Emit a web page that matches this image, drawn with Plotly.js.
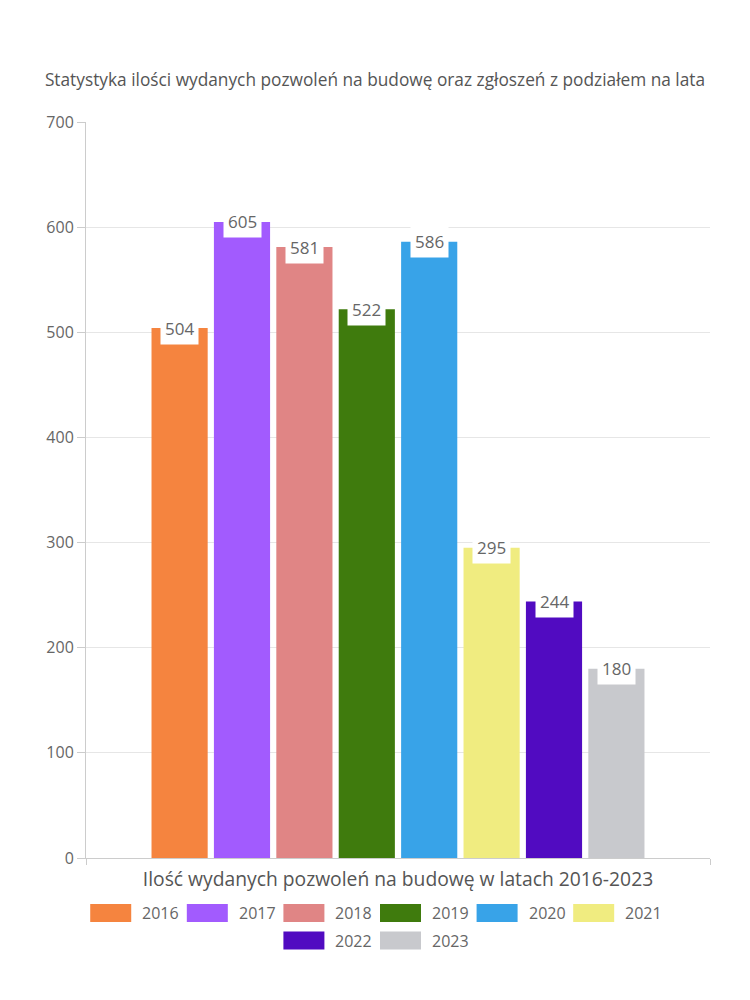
<!DOCTYPE html>
<html>
<head>
<meta charset="utf-8">
<script src="https://cdn.plot.ly/plotly-3.0.1.min.js"></script>
<style>
  html, body { margin: 0; padding: 0; background: #fff; }
  #chart { width: 750px; height: 1000px; }
</style>
</head>
<body>
<div id="chart"></div>
<script>
// ---- data ----
const years = ['2016', '2017', '2018', '2019', '2020', '2021', '2022', '2023'];
const values = [504, 605, 581, 522, 586, 295, 244, 180];
const colors = ['#F5843F', '#A25BFE', '#E08585', '#3F7B0D', '#38A3E8', '#F0EC80', '#510BC1', '#C8C9CD'];
const category = ['2016-2023'];
const chartTitle = 'Statystyka ilości wydanych pozwoleń na budowę oraz zgłoszeń z podziałem na lata';
const xTitle = 'Ilość wydanych pozwoleń na budowę w latach 2016-2023';
const yTicks = [0, 100, 200, 300, 400, 500, 600, 700];

// ---- style ----
const FONT = '"Open Sans", "DejaVu Sans", sans-serif';
const W = 750, H = 1000;
const M = { l: 86, r: 40, t: 122, b: 142 };
const PW = W - M.l - M.r, PH = H - M.t - M.b;
const BARGAP = 0.2, BARGROUPGAP = 0.1;

const traces = years.map((y, i) => ({
  type: 'bar',
  name: y,
  x: category,
  y: [values[i]],
  marker: { color: colors[i], line: { width: 0 } },
  showlegend: false,
  hoverinfo: 'skip'
}));

// value labels (white boxes) centred on each bar's top, positioned via the bar slot math
const n = years.length;
const slot = (1 - BARGAP) / n;
const annotations = values.map((v, i) => ({
  x: -(1 - BARGAP) / 2 + slot * (i + 0.5),
  y: v,
  xref: 'x', yref: 'y',
  text: String(v),
  showarrow: false,
  xanchor: 'center', yanchor: 'middle',
  bgcolor: '#ffffff',
  borderpad: 4,
  font: { family: FONT, size: 17, color: '#666666' }
}));

// custom legend (ECharts style): wide swatches, two centred rows
const LEG_FONT_SIZE = 16;
const ctx = document.createElement('canvas').getContext('2d');
ctx.font = LEG_FONT_SIZE + 'px ' + FONT;
const swW = 41, swH = 18, txtGap = 9, itemGap = 10;
const rows = [years.slice(0, 6), years.slice(6)];
const rowY = [913, 940.5];
const shapes = [];
rows.forEach((row, r) => {
  const widths = row.map(t => swW + txtGap + ctx.measureText(t).width);
  const total = widths.reduce((a, b) => a + b, 0) + itemGap * (row.length - 1);
  let px = W / 2 - total / 2;
  row.forEach((t, k) => {
    const idx = years.indexOf(t);
    const py = rowY[r];
    shapes.push({
      type: 'rect', xref: 'paper', yref: 'paper', layer: 'above',
      x0: (px - M.l) / PW, x1: (px + swW - M.l) / PW,
      y0: (H - M.b - (py + swH / 2)) / PH, y1: (H - M.b - (py - swH / 2)) / PH,
      fillcolor: colors[idx], line: { width: 0 }
    });
    annotations.push({
      xref: 'paper', yref: 'paper',
      x: (px + swW + txtGap - M.l) / PW,
      y: (H - M.b - py) / PH,
      text: t, showarrow: false,
      xanchor: 'left', yanchor: 'middle',
      font: { family: FONT, size: LEG_FONT_SIZE, color: '#666666' }
    });
    px += widths[k] + itemGap;
  });
});

const layout = {
  width: W, height: H,
  margin: M,
  paper_bgcolor: '#ffffff',
  plot_bgcolor: '#ffffff',
  font: { family: FONT, color: '#666666' },
  title: {
    text: chartTitle,
    x: 0.5, xref: 'container', xanchor: 'center',
    y: 1 - 80 / H, yref: 'container', yanchor: 'middle',
    font: { family: FONT, size: 17.3, color: '#555555' }
  },
  barmode: 'group',
  bargap: BARGAP,
  bargroupgap: BARGROUPGAP,
  showlegend: false,
  xaxis: {
    type: 'category',
    showticklabels: false,
    tickson: 'boundaries',
    ticks: 'outside', ticklen: 6, tickcolor: '#cccccc',
    showgrid: true, gridcolor: '#e6e6e6',
    showline: true, linecolor: '#cccccc', linewidth: 1,
    zeroline: false,
    fixedrange: true,
    title: { text: xTitle, standoff: 14, font: { family: FONT, size: 19.3, color: '#555555' } }
  },
  yaxis: {
    range: [0, 700],
    tickvals: yTicks,
    ticks: 'outside', ticklen: 8, tickcolor: '#cccccc',
    showgrid: true, gridcolor: '#e6e6e6',
    showline: true, linecolor: '#cccccc', linewidth: 1,
    zeroline: false,
    tickfont: { family: FONT, size: 16, color: '#666666' },
    fixedrange: true
  },
  annotations: annotations,
  shapes: shapes
};

Plotly.newPlot('chart', traces, layout, { displayModeBar: false, staticPlot: true });
</script>
</body>
</html>
